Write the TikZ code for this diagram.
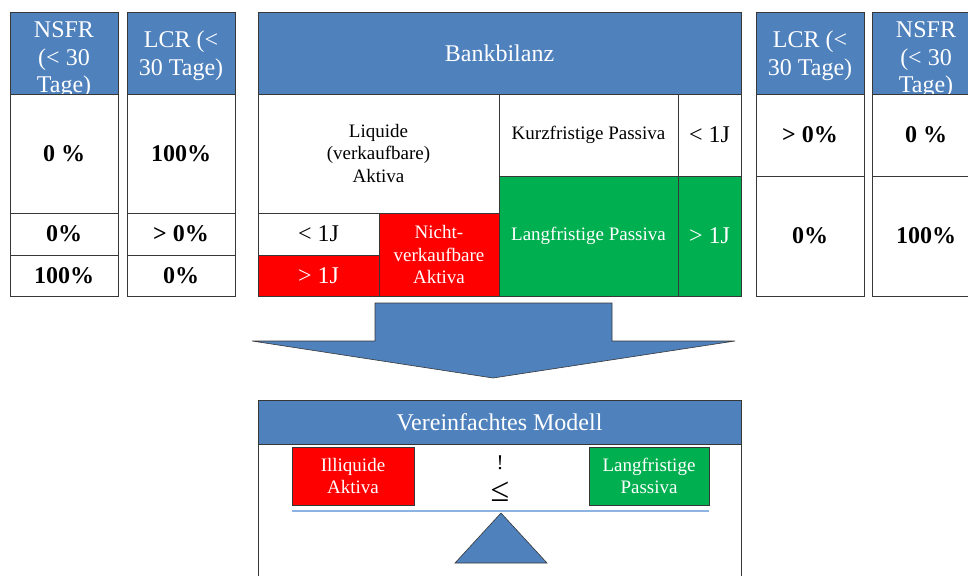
\documentclass[tikz,border=0pt]{standalone}
\usepackage{fontspec}
\setmainfont{Liberation Serif}
\usepackage{tikz}
\definecolor{headblue}{RGB}{79,129,189}
\definecolor{illred}{RGB}{255,0,0}
\definecolor{longgreen}{RGB}{0,176,80}
\definecolor{framegray}{RGB}{55,55,55}
\definecolor{beamblue}{RGB}{141,179,226}

\begin{document}
\begin{tikzpicture}[
    x=1pt, y=-1pt,
    cell/.style={draw=framegray, line width=0.9pt, inner sep=0pt, align=center,
        font=\fontsize{19}{22.5}\selectfont},
    head/.style={cell, fill=headblue, text=white, font=\fontsize{24}{27.5}\selectfont},
    headtext/.style={inner sep=0pt, align=center, text=white, font=\fontsize{24}{27.5}\selectfont},
    val/.style={cell, font=\fontsize{24}{27}\selectfont\bfseries},
    redcell/.style={cell, fill=illred, text=white},
    greencell/.style={cell, fill=longgreen, text=white}
]
\useasboundingbox (0,0) rectangle (968,575);
\clip (0,0) rectangle (968,575);

% NSFR links
\node[head, minimum width=108, minimum height=82] (nsfrLhead) at (64,53) {};
\node[headtext] (nsfrLtext) at (64,60) {NSFR\\(< 30\\Tage)};
\node[val, minimum width=108, minimum height=119] (nsfrLa) at (64,153.5) {0 \%};
\node[val, minimum width=108, minimum height=42] (nsfrLb) at (64,234) {0\%};
\node[val, minimum width=108, minimum height=41] (nsfrLc) at (64,275.5) {100\%};

% LCR links
\node[head, minimum width=108, minimum height=82] (lcrLhead) at (181,53) {};
\node[headtext] (lcrLtext) at (181,56) {LCR (<\\30 Tage)};
\node[val, minimum width=108, minimum height=119] (lcrLa) at (181,153.5) {100\%};
\node[val, minimum width=108, minimum height=42] (lcrLb) at (181,234) {> 0\%};
\node[val, minimum width=108, minimum height=41] (lcrLc) at (181,275.5) {0\%};

% Bankbilanz
\node[head, minimum width=483, minimum height=82] (bankhead) at (499.5,53) {Bankbilanz};
\node[cell, minimum width=241, minimum height=119] (liquid) at (378.5,153.5) {Liquide\\(verkaufbare)\\Aktiva};
\node[cell, minimum width=179, minimum height=82] (kurz) at (588.5,135) {Kurzfristige Passiva};
\node[cell, minimum width=63, minimum height=82, font=\fontsize{24}{27}\selectfont] (kurzJ) at (709.5,135) {< 1J};
\node[greencell, minimum width=179, minimum height=120] (lang) at (588.5,236) {Langfristige Passiva};
\node[greencell, minimum width=63, minimum height=120, font=\fontsize{24}{27}\selectfont] (langJ) at (709.5,236) {> 1J};
\node[cell, minimum width=121, minimum height=42, font=\fontsize{24}{27}\selectfont] (liqJ) at (318.5,234) {< 1J};
\node[redcell, minimum width=121, minimum height=41, font=\fontsize{24}{27}\selectfont] (illJ) at (318.5,275.5) {> 1J};
\node[redcell, minimum width=120, minimum height=83] (nicht) at (439,254.5) {Nicht-\\verkaufbare\\Aktiva};

% LCR rechts
\node[head, minimum width=108, minimum height=82] (lcrRhead) at (810,53) {};
\node[headtext] (lcrRtext) at (810,56) {LCR (<\\30 Tage)};
\node[val, minimum width=108, minimum height=82] (lcrRa) at (810,135) {> 0\%};
\node[val, minimum width=108, minimum height=120] (lcrRb) at (810,236) {0\%};

% NSFR rechts
\node[head, minimum width=108, minimum height=82] (nsfrRhead) at (926,53) {};
\node[headtext] (nsfrRtext) at (926,60) {NSFR\\(< 30\\Tage)};
\node[val, minimum width=108, minimum height=82] (nsfrRa) at (926,135) {0 \%};
\node[val, minimum width=108, minimum height=120] (nsfrRb) at (926,236) {100\%};

% Pfeil
\filldraw[fill=headblue, draw=framegray, line width=0.6pt]
    (375,303) -- (612,303) -- (612,341) -- (735,341) -- (493,378)
    -- (252,341) -- (375,341) -- cycle;

% Vereinfachtes Modell
\node[cell, minimum width=483, minimum height=160] (modelbody) at (499.5,524) {};
\node[head, minimum width=483, minimum height=44] (modelhead) at (499.5,422) {Vereinfachtes Modell};
\node[redcell, minimum width=122, minimum height=58] (illiq) at (353,476) {Illiquide\\Aktiva};
\node[greencell, minimum width=120, minimum height=58] (langp) at (649,476) {Langfristige\\Passiva};
\node[font=\fontsize{21}{24}\selectfont] (bang) at (500,463) {!};
\node[font=\fontsize{34}{36}\selectfont] (leq) at (500,492) {≤};
\draw[beamblue, line width=1.2pt] (illiq.south west |- 0,511) -- (langp.south east |- 0,511);
\filldraw[fill=headblue, draw=framegray, line width=0.6pt]
    (501,513) -- (547,563) -- (455,563) -- cycle;

\end{tikzpicture}
\end{document}
